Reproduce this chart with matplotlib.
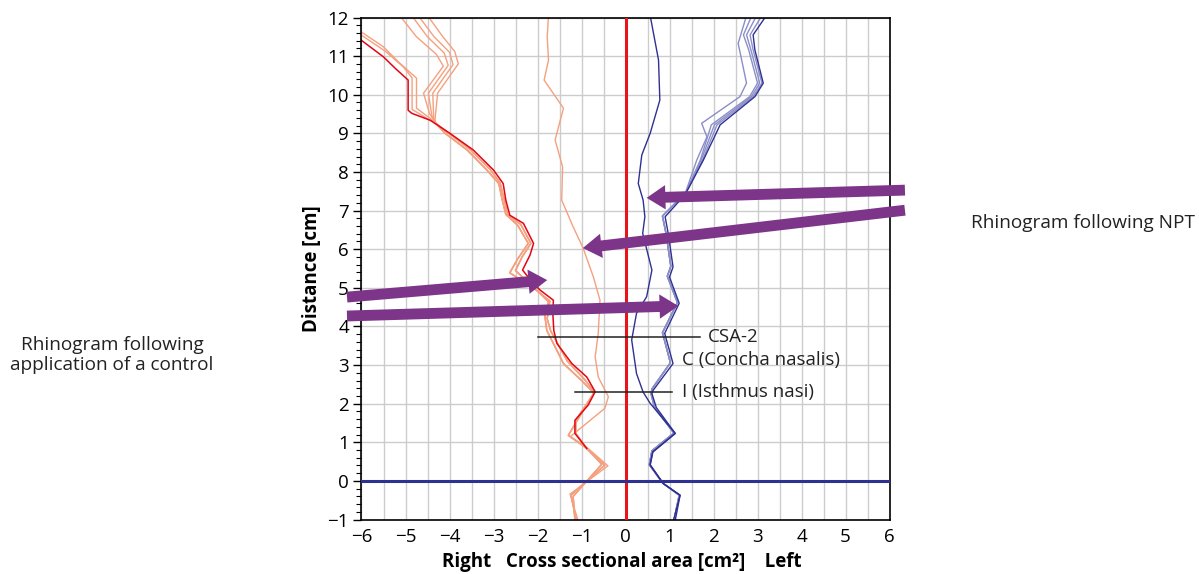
import numpy as np
import matplotlib.pyplot as plt
from matplotlib.ticker import MultipleLocator

plt.rcParams['font.family'] = ['Open Sans', 'DejaVu Sans']

# --- data (x = cross sectional area, y = distance) ---
# control, right side (negative area): main trace
ctrl_right_x = [-6.05, -5.50, -5.23, -4.94, -4.94, -4.86, -4.44, -3.99, -3.46, -3.00, -2.78, -2.72, -2.63,
                -2.32, -2.09, -2.17, -2.34, -2.13, -1.94, -1.64, -1.65, -1.63, -1.56, -1.22, -0.88, -0.69,
                -0.85, -1.15, -1.15, -0.88]
ctrl_right_y = [11.45, 10.98, 10.68, 10.38, 9.60, 9.52, 9.34, 9.00, 8.57, 8.05, 7.70, 7.27, 6.88,
                6.67, 6.15, 5.85, 5.46, 5.16, 4.94, 4.68, 4.30, 3.90, 3.56, 3.04, 2.69, 2.31,
                1.96, 1.57, 1.23, 0.84]

# control, right side: repeat traces (lower common parts + individual tops)
rep_low1_x = [-4.31, -4.10, -3.60, -3.15, -2.88, -2.80, -2.72, -2.45, -2.21, -2.45, -2.63, -2.02, -1.75,
              -1.83, -1.79, -1.41, -1.00, -0.72, -1.30, -0.88, -0.47, -1.24, -1.12]
rep_low1_y = [9.26, 9.00, 8.57, 8.05, 7.70, 7.27, 6.90, 6.62, 6.15, 5.75, 5.39, 4.94, 4.64,
              4.25, 3.90, 3.04, 2.60, 2.28, 1.18, 0.84, 0.41, -0.37, -1.02]
rep_low2_x = [-4.31, -4.05, -3.55, -3.08, -2.85, -2.76, -2.68, -2.38, -2.15, -2.35, -2.50, -2.05, -1.72,
              -1.78, -1.70, -1.32, -0.95, -0.70, -1.13, -1.13, -0.88, -0.54, -1.19, -1.15]
rep_low2_y = [9.26, 9.03, 8.60, 8.07, 7.72, 7.30, 6.90, 6.64, 6.15, 5.80, 5.45, 4.96, 4.66,
              4.20, 3.88, 3.10, 2.65, 2.30, 1.57, 1.23, 0.84, 0.43, -0.40, -1.02]

rep_top_a1_x = [-6.05, -5.50, -5.16, -4.75, -4.75, -4.44]
rep_top_a1_y = [11.66, 11.24, 10.85, 10.43, 9.65, 9.39]
rep_top_a2_x = [-6.05, -5.45, -5.05, -4.85, -4.85, -4.50]
rep_top_a2_y = [11.58, 11.12, 10.72, 10.44, 9.62, 9.38]
rep_top_b1_x = [-5.13, -4.75, -4.30, -4.14, -4.59, -4.45]
rep_top_b1_y = [12.05, 11.50, 11.05, 10.74, 10.04, 9.50]
rep_top_b2_x = [-4.86, -4.50, -4.12, -4.03, -4.48, -4.40]
rep_top_b2_y = [12.05, 11.50, 11.08, 10.76, 10.04, 9.45]
rep_top_b3_x = [-4.71, -4.35, -4.00, -3.92, -4.38, -4.36]
rep_top_b3_y = [12.05, 11.50, 11.10, 10.78, 10.04, 9.40]
rep_top_b4_x = [-4.50, -4.15, -3.88, -3.80, -4.27, -4.33]
rep_top_b4_y = [12.05, 11.50, 11.12, 10.80, 10.04, 9.35]

# NPT, right side
npt_right_x = [-1.75, -1.78, -1.75, -1.85, -1.41, -1.60, -1.43, -1.45, -1.19, -0.96, -0.73, -0.58, -0.62,
               -0.69, -0.62, -0.39, -0.47, -1.25, -0.85, -0.40, -1.26, -1.08]
npt_right_y = [12.05, 11.50, 10.90, 10.38, 9.65, 8.83, 8.13, 7.27, 6.58, 6.02, 5.28, 4.68, 3.82,
               3.21, 2.69, 2.18, 1.88, 1.15, 0.84, 0.39, -0.34, -1.02]

# control, left side (positive area): tops + lower common parts
left_top_y = [12.05, 11.55, 11.16, 10.30, 9.95, 9.22, 8.31, 7.49]
left_main_top_x = [3.20, 2.90, 2.94, 3.13, 2.94, 2.15, 1.77, 1.39]
left_rep2_top_x = [2.87, 2.68, 2.80, 3.00, 2.82, 1.95, 1.70, 1.38]
left_rep3_top_x = [2.98, 2.75, 2.85, 3.05, 2.86, 2.02, 1.72, 1.38]
left_rep4_top_x = [3.10, 2.83, 2.90, 3.10, 2.90, 2.08, 1.75, 1.39]
left_rep1_top_x = [2.75, 2.56, 2.75, 2.60, 1.73, 1.85, 1.62, 1.37]
left_rep1_top_y = [12.05, 11.33, 10.30, 9.95, 9.26, 8.91, 8.31, 7.49]

left_low1_x = [1.24, 0.90, 0.97, 1.08, 1.00, 1.22, 0.89, 1.08, 0.63, 0.60, 0.70, 1.13, 0.62, 0.56, 0.86, 1.24, 1.13]
left_low1_y = [7.27, 6.84, 6.41, 5.54, 5.28, 4.60, 3.82, 3.04, 2.35, 2.26, 1.90, 1.23, 0.75, 0.41, -0.07, -0.37, -1.02]
left_low2_x = [1.20, 0.84, 0.92, 1.03, 0.95, 1.18, 0.84, 1.02, 0.60, 0.58, 0.66, 1.10, 0.60, 0.54, 0.84, 1.22, 1.10]
left_low2_y = [7.27, 6.86, 6.41, 5.56, 5.30, 4.62, 3.84, 3.06, 2.38, 2.26, 1.90, 1.24, 0.78, 0.42, -0.05, -0.37, -1.02]

# NPT, left side
npt_left_x = [0.56, 0.75, 0.78, 0.56, 0.37, 0.29, 0.40, 0.44, 0.39, 0.60, 0.48, 0.25, 0.14, 0.25, 0.40,
              0.56, 1.13, 0.62, 0.56, 0.86, 1.24, 1.09]
npt_left_y = [12.05, 10.90, 9.86, 9.00, 8.44, 7.70, 7.27, 6.84, 6.41, 5.46, 4.77, 4.34, 3.65, 2.78, 2.30,
              2.01, 1.23, 0.75, 0.42, -0.07, -0.37, -1.02]

# landmarks
mark_names = ['CSA-2', 'C (Concha nasalis)', 'I (Isthmus nasi)']
mark_y = [3.73, 3.13, 2.31]
csa_line_x = [-1.98, 1.69]
isthmus_line_x = [-1.15, 1.05]

# arrows: (start, tip)
arrows_ctrl = [((-6.33, 4.76), (-1.78, 5.20)), ((-6.33, 4.27), (1.20, 4.53))]
arrows_npt = [((6.35, 7.53), (0.48, 7.33)), ((6.35, 7.01), (-0.97, 6.03))]

# --- colours ---
dark_red = '#e30613'
salmon = '#f5a07f'
navy = '#2e3192'
light_blue = '#8b8ec7'
purple = '#7d3589'

fig = plt.figure(figsize=(11.99, 5.74), dpi=100)
ax = fig.add_axes([0.3015, 0.0949, 0.4404, 0.8746])

# repeat traces (right side)
for tx, ty, lx, ly in [(rep_top_a1_x, rep_top_a1_y, rep_low1_x, rep_low1_y),
                       (rep_top_a2_x, rep_top_a2_y, rep_low2_x, rep_low2_y),
                       (rep_top_b1_x, rep_top_b1_y, rep_low1_x, rep_low1_y),
                       (rep_top_b2_x, rep_top_b2_y, rep_low2_x, rep_low2_y),
                       (rep_top_b3_x, rep_top_b3_y, rep_low1_x, rep_low1_y),
                       (rep_top_b4_x, rep_top_b4_y, rep_low2_x, rep_low2_y)]:
    ax.plot(tx + lx, ty + ly, color=salmon, lw=1.0, zorder=2)
ax.plot(npt_right_x, npt_right_y, color=salmon, lw=1.0, zorder=2)
ax.plot(ctrl_right_x, ctrl_right_y, color=dark_red, lw=1.1, zorder=2.5)

# left side
for tx, ty, lx, ly in [(left_rep1_top_x, left_rep1_top_y, left_low2_x, left_low2_y),
                       (left_rep2_top_x, left_top_y, left_low2_x, left_low2_y),
                       (left_rep3_top_x, left_top_y, left_low2_x, left_low2_y),
                       (left_rep4_top_x, left_top_y, left_low2_x, left_low2_y)]:
    ax.plot(tx + lx, ty + ly, color=light_blue, lw=1.0, zorder=2)
ax.plot(left_main_top_x + left_low1_x, left_top_y + left_low1_y, color=navy, lw=1.0, zorder=2.5)
ax.plot(npt_left_x, npt_left_y, color=navy, lw=1.0, zorder=2.5)

# zero lines
ax.axvline(0, color='#e8141c', lw=2.2, zorder=3)
ax.axhline(0, color=navy, lw=2.2, zorder=3)

# landmarks
ax.plot(csa_line_x, [mark_y[0]] * 2, color='#222222', lw=1.1, zorder=4)
ax.plot(isthmus_line_x, [mark_y[2]] * 2, color='#222222', lw=1.1, zorder=4)
ax.text(1.88, mark_y[0], mark_names[0], fontsize=13.5, va='center', ha='left', color='#222222', zorder=5)
ax.text(1.28, mark_y[1], mark_names[1], fontsize=13.5, va='center', ha='left', color='#222222', zorder=5)
ax.text(1.28, mark_y[2], mark_names[2], fontsize=13.5, va='center', ha='left', color='#222222', zorder=5)

# arrows
for start, tip in arrows_ctrl + arrows_npt:
    ax.annotate('', xy=tip, xytext=start, annotation_clip=False, zorder=6,
                arrowprops=dict(arrowstyle='simple,head_width=1.75,head_length=1.35,tail_width=0.78',
                                color=purple, mutation_scale=10, shrinkA=0, shrinkB=0, lw=0,
                                clip_on=False))

# axes styling
ax.set_xlim(-6, 6)
ax.set_ylim(-1, 12)
ax.xaxis.set_major_locator(MultipleLocator(1))
ax.xaxis.set_minor_locator(MultipleLocator(0.5))
ax.yaxis.set_major_locator(MultipleLocator(1))
ax.yaxis.set_minor_locator(MultipleLocator(0.2))
ax.grid(which='both', axis='x', color='#cccccc', lw=1.0, zorder=0)
ax.grid(which='major', axis='y', color='#cccccc', lw=1.0, zorder=0)
ax.set_axisbelow(True)
ax.tick_params(axis='x', which='both', length=0, pad=6, labelsize=13.5)
ax.tick_params(axis='y', which='major', length=6, width=1.0, pad=3, labelsize=13.5)
ax.tick_params(axis='y', which='minor', length=3.5, width=0.8)
for s in ax.spines.values():
    s.set_linewidth(1.2)
    s.set_color('black')

ax.set_ylabel('Distance [cm]', fontsize=13.5, fontweight='bold', labelpad=4)
fig.text(0.519, 0.021, 'Right   Cross sectional area [cm\u00b2]    Left', fontsize=13.5,
         fontweight='bold', ha='center', va='center')

fig.text(0.0934, 0.3815, 'Rhinogram following\napplication of a control', fontsize=13.7,
         ha='center', va='center', linespacing=1.1, color='#222222')
fig.text(0.8098, 0.6115, 'Rhinogram following NPT', fontsize=13.7, ha='left', va='center',
         color='#222222')

fig.savefig('out.png', dpi=100)
